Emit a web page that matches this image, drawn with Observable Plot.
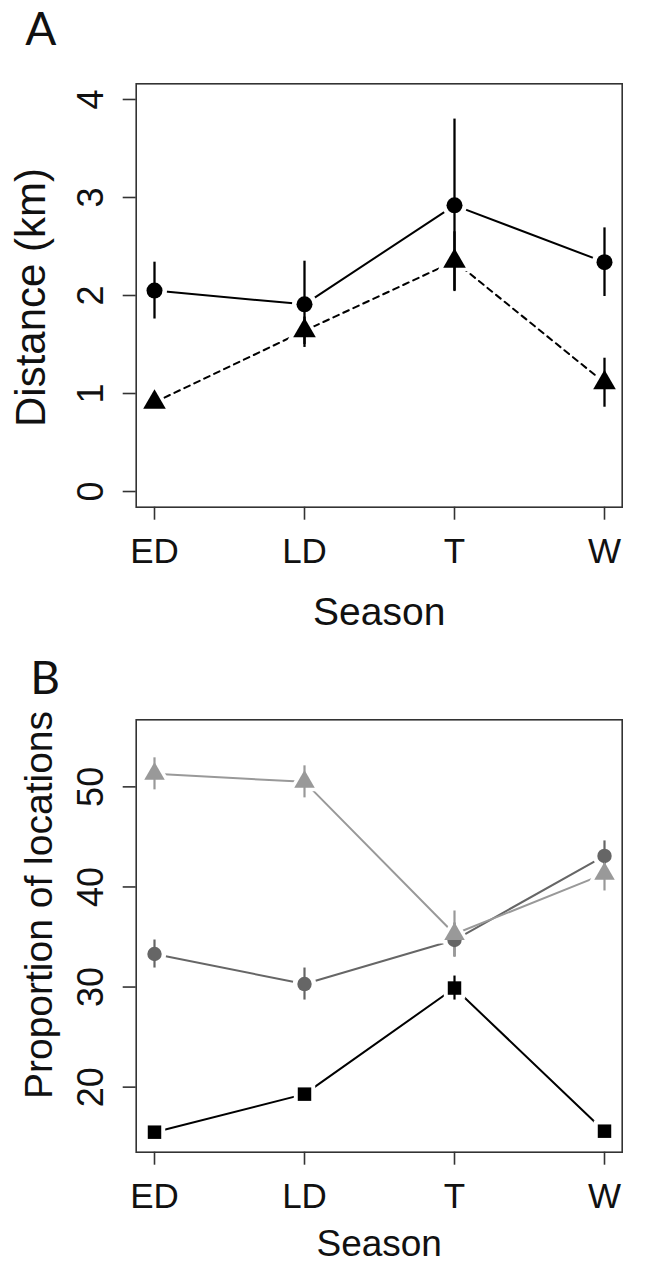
<!DOCTYPE html>
<html><head><meta charset="utf-8">
<script src="https://cdn.jsdelivr.net/npm/d3@7"></script>
<script src="https://cdn.jsdelivr.net/npm/@observablehq/plot@0.6"></script>
<style>html,body{margin:0;padding:0;background:#fff}#chart svg{display:block}</style>
</head><body><div id="chart"></div>
<script>
// ---- data ----
const seasons = ["ED", "LD", "T", "W"];
// Panel A: distance (km)
const distCircle   = [2.05, 1.91, 2.92, 2.34];
const distCircleSE = [0.29, 0.44, 0.88, 0.35];
const distTri      = [0.91, 1.64, 2.35, 1.11];
const distTriSE    = [0.04, 0.14, 0.30, 0.25];
const distTicks    = [0, 1, 2, 3, 4];
// Panel B: proportion of locations
const propSquare   = [15.5, 19.3, 29.9, 15.6];
const propSquareSE = [0.3, 0.4, 1.2, 0.3];
const propCircle   = [33.3, 30.3, 34.7, 43.1];
const propCircleSE = [1.4, 1.6, 1.7, 1.5];
const propTri      = [51.3, 50.5, 35.3, 41.3];
const propTriSE    = [1.6, 1.6, 2.3, 1.7];
const propTicks    = [20, 30, 40, 50];

const FONT = "'Liberation Sans', Arial, sans-serif";

function rowsOf(values, se) {
  return seasons.map((season, i) => ({season, v: values[i], se: se[i]}));
}

function panel(o) {
  const marks = [];
  const sets = o.series.map(s => ({...s, rows: rowsOf(s.values, s.se)}));
  for (const s of sets) marks.push(Plot.line(s.rows, {x: "season", y: "v", stroke: s.color, strokeWidth: s.lw, strokeDasharray: s.dash}));
  for (const s of sets) marks.push(Plot.dot(s.rows, {x: "season", y: "v", symbol: s.symbol, r: s.r + 4.5, fill: "white", stroke: "none"}));
  for (const s of sets) marks.push(Plot.ruleX(s.rows, {x: "season", y1: d => d.v - d.se, y2: d => d.v + d.se, stroke: s.color, strokeWidth: s.ew}));
  for (const s of sets) marks.push(Plot.dot(s.rows, {x: "season", y: "v", symbol: s.symbol, r: s.r, fill: s.color, stroke: "none"}));
  marks.push(Plot.frame({stroke: "#333", strokeWidth: 1.6}));
  marks.push(Plot.axisX({tickSize: 13, tickPadding: 18, fontSize: 35, label: null, stroke: "#333", strokeWidth: 1.6}));
  marks.push(Plot.axisY({ticks: o.yTicks, tickFormat: d3.format("d"), tickSize: 13, tickPadding: 20, tickRotate: -90, fontSize: 36, label: null, stroke: "#333", strokeWidth: 1.6}));
  marks.push(Plot.text([o.yLabel], {frameAnchor: "left", rotate: -90, textAnchor: "middle", lineAnchor: "middle", dx: o.yLabelDx, dy: o.yLabelDy, fontSize: o.yLabelSize, fill: "#111"}));
  marks.push(Plot.text(["Season"], {frameAnchor: "bottom", textAnchor: "middle", lineAnchor: "top", dy: o.xLabelDy, fontSize: o.xLabelSize, fill: "#111"}));
  marks.push(Plot.text([o.letter], {frameAnchor: "top-left", textAnchor: "start", lineAnchor: "top", dx: o.letterDx, dy: o.letterDy, fontSize: 46, fontFamily: "Lato, 'Open Sans', sans-serif", fill: "#111"}));
  return Plot.plot({
    width: 650,
    height: o.height,
    marginLeft: 135.7,
    marginRight: 28.3,
    marginTop: o.marginTop,
    marginBottom: o.marginBottom,
    style: {fontFamily: FONT, background: "white", color: "#111", overflow: "visible"},
    x: {type: "point", domain: seasons, padding: 0.118},
    y: {domain: o.yDomain},
    marks
  });
}

const chart = document.getElementById("chart");
chart.append(panel({
  letter: "A", yLabel: "Distance (km)", yLabelSize: 42, yDomain: [-0.16, 4.16], yTicks: distTicks,
  height: 632, marginTop: 83.3, marginBottom: 125.3,
  yLabelDx: -105, yLabelDy: 2, xLabelDy: 90, xLabelSize: 39, letterDx: -111, letterDy: -71,
  series: [
    {values: distCircle, se: distCircleSE, color: "#000", lw: 2, dash: null, symbol: "circle", r: 8, ew: 2.3},
    {values: distTri, se: distTriSE, color: "#000", lw: 2, dash: "6,5", symbol: "triangle", r: 8.4, ew: 2.3}
  ]
}));
chart.append(panel({
  letter: "B", yLabel: "Proportion of locations", yLabelSize: 39, yDomain: [13.5, 56.7], yTicks: propTicks,
  height: 632, marginTop: 87.3, marginBottom: 112.3,
  yLabelDx: -97, yLabelDy: -31, xLabelDy: 77.5, xLabelSize: 37, letterDx: -106, letterDy: -58,
  series: [
    {values: propSquare, se: propSquareSE, color: "#000", lw: 2, dash: null, symbol: "square", r: 7.6, ew: 2.2},
    {values: propCircle, se: propCircleSE, color: "#666", lw: 2, dash: null, symbol: "circle", r: 7.2, ew: 2.2},
    {values: propTri, se: propTriSE, color: "#999", lw: 2, dash: null, symbol: "triangle", r: 7.6, ew: 2.2}
  ]
}));
</script>
</body></html>
